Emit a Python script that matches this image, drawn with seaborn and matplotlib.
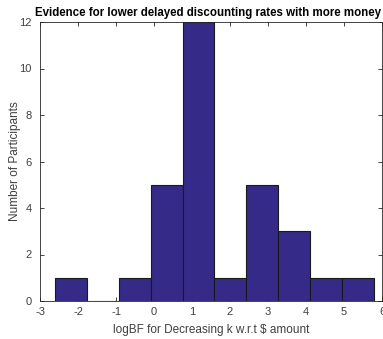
import numpy as np
import matplotlib
matplotlib.use("Agg")
import matplotlib.pyplot as plt
import seaborn as sns

# Histogram of log Bayes factors: bin edges and participant counts per bin
bin_edges = [-2.61, -1.77, -0.93, -0.09, 0.75, 1.59, 2.43, 3.27, 4.11, 4.95, 5.79]
counts = [1, 0, 1, 5, 12, 1, 5, 3, 1, 1]
x_ticks = [-3, -2, -1, 0, 1, 2, 3, 4, 5, 6]
y_ticks = [0, 2, 4, 6, 8, 10, 12]

sns.set_theme(style="white")
plt.rcParams["font.family"] = ["Liberation Sans", "DejaVu Sans"]

fig = plt.figure(figsize=(3.83, 3.39), dpi=100)
ax = fig.add_axes([40 / 383, 38 / 339, 342 / 383, 279 / 339])

centers = [(a + b) / 2 for a, b in zip(bin_edges[:-1], bin_edges[1:])]
sns.histplot(x=centers, weights=counts, bins=bin_edges, ax=ax,
             color="#352A87", alpha=1.0, edgecolor="#1a1a1a", linewidth=0.8)

ax.set_xlim(-3, 6)
ax.set_ylim(0, 12)
ax.set_xticks(x_ticks)
ax.set_yticks(y_ticks)
ax.set_xticklabels([str(t) for t in x_ticks])
ax.set_yticklabels([str(t) for t in y_ticks])
ax.tick_params(direction="in", length=3, width=0.6, colors="#262626",
               labelsize=8, top=True, right=True, bottom=True, left=True,
               labelcolor="#404040")
ax.tick_params(axis="y", pad=6)
ax.tick_params(axis="x", pad=4)
for s in ax.spines.values():
    s.set_visible(True)
    s.set_color("#262626")
    s.set_linewidth(0.6)

ax.set_xlabel("logBF for Decreasing k w.r.t $ amount", fontsize=8.5,
              color="#404040", labelpad=5)
ax.set_ylabel("Number of Participants", fontsize=8.5, color="#404040")
ax.yaxis.set_label_coords(-0.055, 0.5)
ax.set_title("Evidence for lower delayed discounting rates with more money",
             fontsize=8.3, fontweight="bold", color="black", pad=4, x=0.49)

fig.savefig("out.png", dpi=100)
